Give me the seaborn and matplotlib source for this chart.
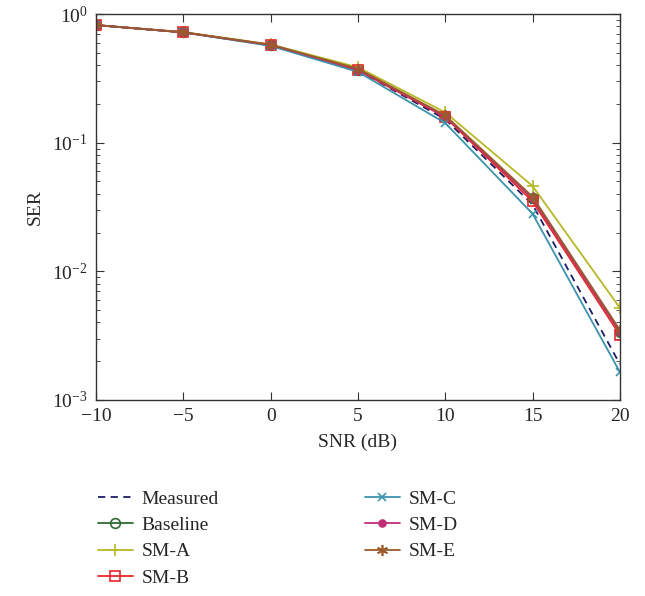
import numpy as np
import pandas as pd
import matplotlib
matplotlib.use("Agg")
import matplotlib.pyplot as plt
import seaborn as sns
from matplotlib.ticker import LogLocator, NullFormatter

snr = [-10, -5, 0, 5, 10, 15, 20]
measured = [0.82, 0.72, 0.57, 0.365, 0.152, 0.033, 0.0019]
baseline = [0.82, 0.72, 0.575, 0.37, 0.16, 0.037, 0.0034]
sm_a = [0.82, 0.725, 0.58, 0.385, 0.172, 0.046, 0.0052]
sm_b = [0.82, 0.72, 0.57, 0.365, 0.158, 0.035, 0.0032]
sm_c = [0.82, 0.72, 0.565, 0.355, 0.142, 0.028, 0.00165]
sm_d = [0.82, 0.72, 0.575, 0.37, 0.16, 0.037, 0.0034]
sm_e = [0.82, 0.72, 0.578, 0.375, 0.163, 0.038, 0.0035]

series = ["Measured", "Baseline", "SM-A", "SM-B", "SM-C", "SM-D", "SM-E"]
values = [measured, baseline, sm_a, sm_b, sm_c, sm_d, sm_e]
colors = ["#1c1c66", "#2f6b33", "#b8b826", "#e8262b", "#3b93ad", "#bf2f78", "#9a5a2c"]
markers = ["None", "o", "+", "s", "x", "o", (6, 2, 0)]
msizes = [0, 7, 9, 7, 6, 5, 8]
mfc = ["none", "none", "none", "none", "none", "#bf2f78", "none"]
styles = [(0, (4, 3)), "-", "-", "-", "-", "-", "-"]

df = pd.DataFrame({"SNR": np.tile(snr, len(series)),
                   "SER": np.concatenate(values),
                   "series": np.repeat(series, len(snr))})

sns.set_style("white")
plt.rcParams["font.family"] = ["Liberation Serif", "DejaVu Serif"]
plt.rcParams["mathtext.fontset"] = "stix"

fig = plt.figure(figsize=(6.45, 5.96), dpi=100)
ax = fig.add_axes([0.149, 0.329, 0.812, 0.6475])

sns.lineplot(data=df, x="SNR", y="SER", hue="series", hue_order=series,
             palette=colors, ax=ax, estimator=None, sort=False, legend=False,
             linewidth=1.3)

for line, s, c, m, ms, f, ls in zip(ax.lines, series, colors, markers, msizes, mfc, styles):
    line.set_label(s)
    line.set_linestyle(ls)
    line.set_color(c)
    line.set_marker(m)
    line.set_markersize(ms)
    line.set_markeredgecolor(c)
    line.set_markerfacecolor(f)
    line.set_markeredgewidth(1.2)

ax.set_yscale("log")
ax.set_xlim(-10, 20)
ax.set_ylim(1e-3, 1)
ax.set_xticks(snr)
ax.set_xticklabels(["\u221210", "\u22125", "0", "5", "10", "15", "20"])
ax.yaxis.set_minor_locator(LogLocator(base=10, subs=np.arange(2, 10)))
ax.yaxis.set_minor_formatter(NullFormatter())
ax.set_xlabel("SNR (dB)", fontsize=14, labelpad=6)
ax.set_ylabel("SER", fontsize=14, labelpad=6)
ax.tick_params(which="both", direction="in", top=True, right=True, bottom=True, left=True,
               labelsize=14, pad=6, color="#333333")
ax.tick_params(which="major", length=6)
ax.tick_params(which="minor", length=3)
for sp in ax.spines.values():
    sp.set_color("#333333")
    sp.set_linewidth(1.0)

h, l = ax.get_legend_handles_labels()
leg = fig.legend(h, l, loc="upper left", bbox_to_anchor=(0.1245, 0.207), ncol=2,
                 frameon=False, fontsize=14, handlelength=1.8, handletextpad=0.45,
                 columnspacing=7.5, labelspacing=0.45)

fig.savefig("out.png", dpi=100)
